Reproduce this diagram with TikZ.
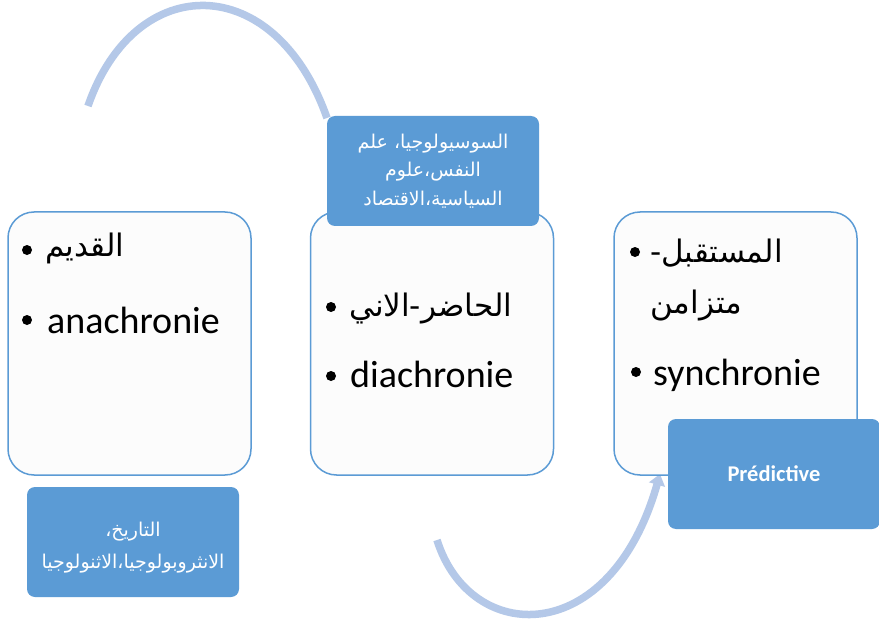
\documentclass[tikz,border=0pt]{standalone}
\usepackage{fontspec}
\setmainfont{Carlito}
\newfontfamily\arabicfont[Script=Arabic]{DejaVu Sans}
\TeXXeTstate=1
\usepackage{xcolor}
\usepackage{tikz}
\usetikzlibrary{arrows.meta, positioning}

\definecolor{fieldblue}{HTML}{5B9BD5}
\definecolor{boxline}{HTML}{5B9BD5}
\definecolor{boxfill}{HTML}{FCFCFC}
\definecolor{arcblue}{HTML}{B4C8E8}

\tikzset{
    period/.style={draw=boxline, line width=1.5pt, fill=boxfill, rounded corners=26pt,
        minimum width=243pt, minimum height=263pt, inner sep=0pt},
    field/.style={fill=fieldblue, rounded corners=8pt, text=white, align=center,
        minimum width=212pt, minimum height=110pt, inner sep=0pt},
    cycle/.style={draw=arcblue, line width=7.5pt},
    item/.style={anchor=base west, inner sep=0pt, font=\fontsize{38}{44}\selectfont},
    aritem/.style={anchor=base west, inner sep=0pt, align=left,
        font=\arabicfont\fontsize{31}{51}\selectfont},
}

\begin{document}
\begin{tikzpicture}[x=1pt, y=-1pt]
    \clip (0,0) rectangle (879,623);
    \fill[white] (0,0) rectangle (879,623);

    % 1. Các cung tròn
    \coordinate (topA) at (88,106);
    \coordinate (topB) at (327,118);
    \coordinate (botA) at (437,540);
    \coordinate (botB) at (660,474);
    \draw[cycle] (topA) .. controls (135,-30) and (275,-30) .. (topB);
    \draw[cycle, -{Triangle[length=11pt, width=16pt]}] (botA) .. controls (470,645) and (610,650) .. (botB);

    % 2. Ba khung chính
    \node[period] (past) at (129.5,343.5) {};
    \node[period] (present) at (432,343.5) {};
    \node[period] (future) at (735.5,343.5) {};

    % 3. Nội dung khung trái
    \fill (27,250) circle (5pt);
    \node[aritem] (pastAr) at (45,256) {\beginR القديم\endR};
    \fill (27,320) circle (5pt);
    \node[item] (pastFr) at (47,333) {anachronie};

    % 4. Nội dung khung giữa
    \fill (331,307) circle (5pt);
    \node[aritem] (presentAr) at (349,316) {\beginR الحاضر-الاني\endR};
    \fill (331,376) circle (5pt);
    \node[item] (presentFr) at (350,387) {diachronie};

    % 5. Nội dung khung phải (mốc base = dòng cuối)
    \fill (635,252) circle (5pt);
    \node[aritem] (futureAr) at (650,313) {\beginR المستقبل-\endR\\\beginR متزامن\endR};
    \fill (636,372) circle (5pt);
    \node[item] (futureFr) at (653,385) {synchronie};

    % 6. Các khung màu xanh
    \node[field, font=\arabicfont\fontsize{19}{28.5}\selectfont] (social) at (433,171)
        {\beginR السوسيولوجيا، علم\endR\\\beginR النفس،علوم\endR\\\beginR السياسية،الاقتصاد\endR};
    \node[field] (history) at (133,542) {};
    \node[text=white, align=center, font=\arabicfont\fontsize{19}{32}\selectfont] (historyText)
        at ([yshift=-6pt]history.center)
        {\beginR التاريخ،\endR\\\beginR الانثروبولوجيا،الاثنولوجيا\endR};
    \node[field, font=\bfseries\fontsize{22.5}{26}\selectfont] (predict) at (774,474) {Prédictive};

\end{tikzpicture}
\end{document}
